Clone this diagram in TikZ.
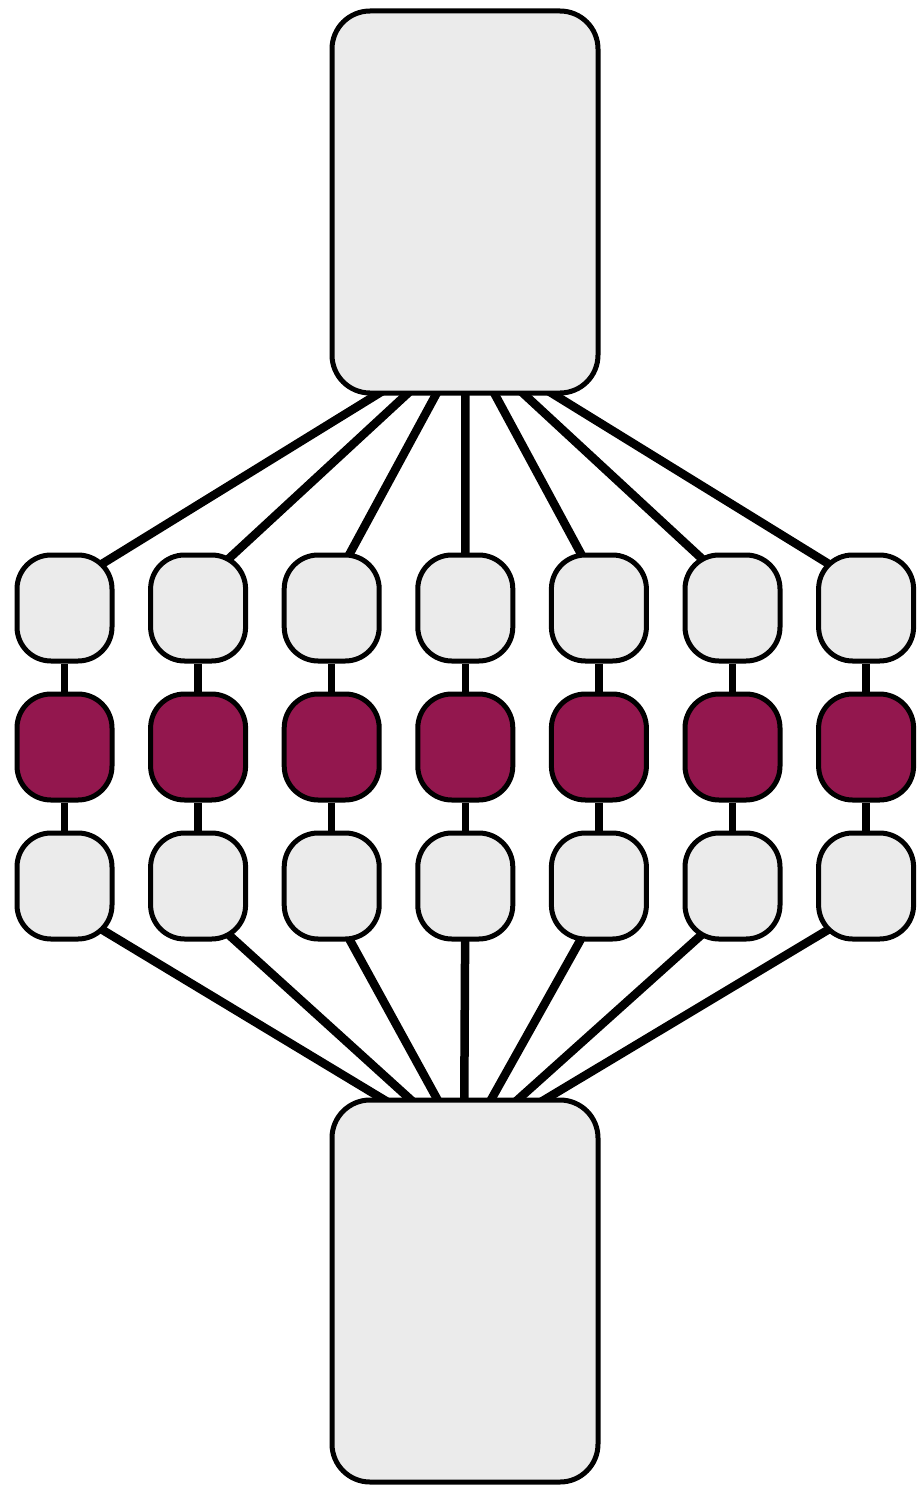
\documentclass[tikz,border=0pt]{standalone}
\usetikzlibrary{backgrounds,calc}
\definecolor{boxgray}{HTML}{EBEBEB}
\definecolor{plum}{HTML}{93174E}
\begin{document}
\begin{tikzpicture}[x=1pt,y=-1pt,
  box/.style={draw=black,line width=5pt,fill=boxgray,rounded corners=34pt,minimum width=95pt,minimum height=106pt,inner sep=0pt},
  bigbox/.style={box,rounded corners=38pt,minimum width=266pt,minimum height=382pt},
  hot/.style={box,fill=plum},
  conn/.style={line width=8.5pt},
  link/.style={line width=7.5pt}]
\useasboundingbox (0,0) rectangle (919,1488);
\node[bigbox] (top) at (465,202) {};
\node[bigbox] (bot) at (465,1291) {};
\coordinate (hubT) at (465.5,340);
\coordinate (hubB) at (464,1148);
\foreach \i in {0,...,6} {
  \pgfmathsetmacro\cx{64.5+133.6*\i}
  \node[box] (t\i) at (\cx,608) {};
  \node[hot] (m\i) at (\cx,747) {};
  \node[box] (b\i) at (\cx,886) {};
}
\begin{scope}[on background layer]
\foreach \i in {0,...,6} {
  \draw[conn] (hubT) -- ($(t\i)+(0,-21)$);
  \draw[link] (t\i) -- (m\i) -- (b\i);
  \draw[conn] ($(b\i)+(0,21)$) -- (hubB);
}
\end{scope}
\end{tikzpicture}
\end{document}
